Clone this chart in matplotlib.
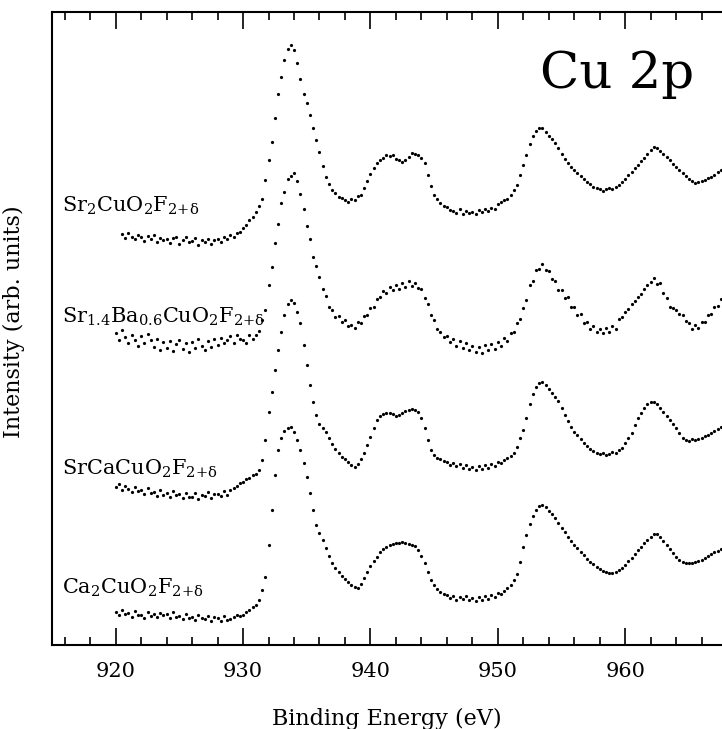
import numpy as np
import matplotlib
matplotlib.use("Agg")
import matplotlib.pyplot as plt
from matplotlib.ticker import MultipleLocator

plt.rcParams["font.family"] = ["DejaVu Serif"]
plt.rcParams["mathtext.fontset"] = "dejavuserif"
plt.rcParams["mathtext.default"] = "regular"

# Binding energy scan, 0.25 eV steps
energy = np.arange(920.0, 967.76, 0.25)

# Stacked Cu 2p spectra (arb. units, offsets already included), top to bottom
sr2 = [
    411, 407, 412, 408, 406, 410,
    408, 404, 409, 406, 410, 403, 407, 405,
    406, 402, 407, 408, 401, 405, 408, 403,
    404, 407, 400, 405, 403, 406, 401, 405,
    406, 403, 408, 406, 410, 408, 412, 413,
    417, 420, 425, 428, 433, 439, 446, 465,
    485, 503, 527, 551, 568, 585, 596, 600,
    595, 582, 566, 551, 542, 530, 517, 505,
    493, 479, 468, 461, 455, 452, 448, 447,
    445, 443, 446, 445, 449, 450, 457, 464,
    471, 477, 482, 485, 487, 490, 489, 490,
    486, 485, 483, 485, 488, 492, 491, 490,
    487, 482, 470, 459, 450, 446, 442, 439,
    438, 435, 434, 432, 436, 431, 434, 432,
    433, 431, 435, 433, 436, 434, 437, 436,
    441, 443, 445, 446, 450, 455, 460, 470,
    480, 490, 501, 509, 514, 517, 517, 513,
    509, 506, 502, 497, 491, 486, 482, 478,
    475, 472, 469, 466, 463, 461, 458, 457,
    456, 454, 456, 457, 456, 458, 460, 463,
    466, 470, 473, 477, 480, 484, 487, 491,
    495, 498, 497, 494, 491, 488, 485, 481,
    478, 475, 472, 469, 466, 464, 462, 463,
    464, 465, 467, 468, 470, 473, 475, 477,
]

sr14ba06 = [
    312, 305, 315, 308, 302, 310, 305, 299,
    309, 302, 311, 305, 298, 306, 295, 303,
    297, 304, 294, 301, 305, 296, 302, 293,
    303, 297, 306, 299, 295, 304, 298, 306,
    300, 307, 302, 305, 309, 302, 310, 306,
    305, 302, 310, 306, 310, 314, 325, 335,
    360, 378, 402, 421, 442, 453, 466, 469,
    472, 464, 451, 436, 419, 406, 388, 379,
    368, 356, 349, 338, 335, 328, 329, 323,
    325, 319, 320, 317, 323, 322, 329, 330,
    337, 338, 346, 348, 354, 352, 358, 355,
    360, 356, 362, 358, 364, 359, 362, 357,
    356, 347, 341, 330, 325, 316, 313, 308,
    309, 303, 306, 299, 304, 297, 302, 295,
    299, 293, 298, 292, 300, 295, 301, 296,
    303, 299, 307, 304, 312, 313, 322, 326,
    337, 345, 360, 364, 375, 376, 381, 375,
    374, 366, 364, 355, 355, 347, 348, 338,
    338, 330, 331, 322, 323, 316, 319, 313,
    316, 312, 317, 313, 319, 316, 326, 328,
    333, 336, 341, 344, 348, 351, 356, 360,
    363, 367, 361, 362, 352, 347, 338, 337,
    335, 331, 330, 324, 322, 316, 320, 317,
    323, 323, 330, 331, 338, 339, 346, 348,
]

srca = [
    158, 161, 155, 159, 156, 153, 158, 154,
    155, 151, 157, 152, 153, 149, 155, 150,
    152, 148, 154, 150, 151, 147, 152, 148,
    148, 152, 146, 150, 149, 153, 147, 151,
    151, 149, 154, 150, 155, 157, 159, 162,
    163, 166, 167, 170, 171, 175, 185, 205,
    233, 253, 275, 295, 313, 330, 341, 345,
    342, 333, 322, 300, 280, 260, 243, 230,
    221, 217, 213, 207, 201, 196, 192, 188,
    186, 183, 180, 178, 181, 186, 192, 200,
    208, 217, 225, 229, 231, 232, 232, 231,
    229, 230, 232, 234, 235, 236, 235, 233,
    227, 217, 205, 195, 190, 187, 186, 184,
    183, 180, 182, 179, 181, 177, 180, 176,
    178, 175, 179, 176, 180, 177, 181, 179,
    183, 182, 185, 187, 189, 192, 198, 207,
    215, 227, 241, 251, 258, 262, 263, 260,
    256, 252, 248, 244, 237, 230, 224, 218,
    213, 210, 206, 202, 199, 196, 194, 192,
    191, 192, 190, 191, 193, 192, 195, 197,
    202, 207, 212, 220, 227, 232, 237, 241,
    243, 243, 241, 237, 233, 229, 225, 221,
    217, 212, 207, 205, 204, 206, 205, 206,
    207, 209, 210, 212, 214, 216, 218, 220,
]

ca2 = [
    33, 30, 35, 31, 32, 28, 34, 30,
    30, 27, 33, 29, 31, 28, 32, 30,
    31, 27, 33, 28, 29, 26, 31, 27,
    28, 25, 30, 27, 26, 29, 24, 28,
    27, 24, 29, 25, 26, 28, 30, 29,
    30, 33, 35, 38, 40, 45, 55, 68,
    100, 135, 170, 195, 207, 214, 217, 218,
    213, 205, 195, 182, 168, 152, 135, 120,
    112, 105, 97, 89, 82, 77, 73, 69,
    66, 63, 60, 58, 57, 61, 67, 73,
    79, 84, 88, 93, 96, 98, 100, 101,
    102, 102, 103, 102, 101, 100, 99, 95,
    89, 82, 73, 65, 60, 56, 53, 51,
    50, 47, 49, 45, 48, 46, 49, 45,
    47, 44, 48, 45, 49, 46, 50, 48,
    52, 51, 54, 57, 60, 65, 71, 83,
    98, 110, 121, 129, 135, 139, 140, 138,
    134, 131, 127, 122, 117, 113, 108, 104,
    100, 97, 93, 90, 86, 83, 81, 78,
    76, 74, 73, 72, 72, 73, 75, 77,
    80, 84, 87, 91, 95, 98, 102, 105,
    108, 111, 111, 108, 104, 100, 96, 92,
    88, 85, 83, 82, 82, 82, 83, 84,
    85, 87, 89, 91, 93, 94, 96, 98,
]

spectra = [sr2, sr14ba06, srca, ca2]
start_energy = [920.5, 920.0, 920.0, 920.0]
sample_labels = [
    r"Sr$_2$CuO$_2$F$_{2{+}δ}$",
    r"Sr$_{1.4}$Ba$_{0.6}$CuO$_2$F$_{2{+}δ}$",
    r"SrCaCuO$_2$F$_{2{+}δ}$",
    r"Ca$_2$CuO$_2$F$_{2{+}δ}$",
]
label_heights = [433, 322, 170, 51]


def plot_cu2p(filepath="out.png"):
    """
    Draws the stacked Cu 2p XPS spectra and saves to filepath.
    """
    fig = plt.figure(figsize=(7.22, 7.29), dpi=100)
    ax = fig.add_axes([52 / 722, 84 / 729, 670 / 722, 633 / 729])

    for values, e0 in zip(spectra, start_energy):
        x = energy[energy >= e0 - 1e-9]
        ax.plot(x, values, linestyle="none", marker="o", markersize=2.3,
                markeredgewidth=0, color="black")

    for text, h in zip(sample_labels, label_heights):
        ax.text(915.8, h, text, fontsize=15, ha="left", va="baseline")

    ax.text(959.4, 557, "Cu 2p", fontsize=37, ha="center", va="baseline")

    ax.set_xlim(915, 967.6)
    ax.set_ylim(0, 633)
    ax.xaxis.set_major_locator(MultipleLocator(10))
    ax.xaxis.set_minor_locator(MultipleLocator(2))
    ax.set_yticks([])
    ax.tick_params(axis="x", which="both", direction="in", top=True,
                   labelsize=15, pad=12, width=1.2)
    ax.tick_params(axis="x", which="major", length=12)
    ax.tick_params(axis="x", which="minor", length=6)
    ax.spines["right"].set_visible(False)
    for side in ["left", "top", "bottom"]:
        ax.spines[side].set_linewidth(1.5)

    fig.text(387 / 722, 1 - 725 / 729, "Binding Energy (eV)", fontsize=16,
             ha="center", va="baseline")
    fig.text(14 / 722, 1 - 322 / 729, "Intensity (arb. units)", fontsize=16,
             ha="center", va="center", rotation=90)

    fig.savefig(filepath, dpi=100)
    plt.close(fig)


if __name__ == "__main__":
    plot_cu2p("out.png")
